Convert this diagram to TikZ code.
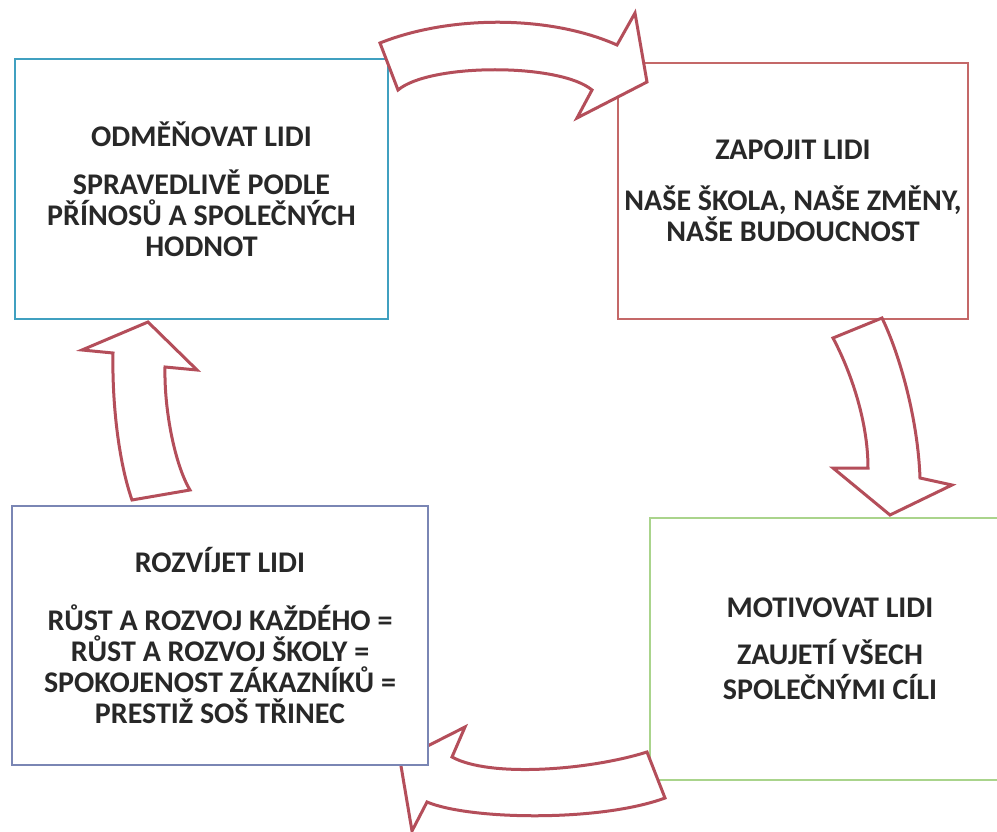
\documentclass[tikz,border=0pt]{standalone}
\usepackage{fontspec}
\setmainfont{Carlito}
\usepackage{xcolor}
\definecolor{rewardline}{RGB}{64,160,192}
\definecolor{engageline}{RGB}{196,104,104}
\definecolor{motivline}{RGB}{170,212,140}
\definecolor{growline}{RGB}{122,134,180}
\definecolor{arrowred}{RGB}{180,78,90}
\definecolor{inkgray}{RGB}{40,40,40}
\tikzset{
  cyclebox/.style={draw,line width=2.5pt,fill=white,align=center,inner sep=0pt,
    text=inkgray,font=\bfseries\fontsize{30}{31}\selectfont},
  bentarrow/.style={draw=arrowred,fill=white,line width=3pt,line join=miter}
}
\begin{document}
\begin{tikzpicture}[x=1pt,y=-1pt]
\clip (0,0) rectangle (997,832);
\fill[white] (0,0) rectangle (997,832);

\node[cyclebox,draw=rewardline,minimum width=373pt,minimum height=260pt] (reward) at (201.5,189)
  {ODMĚŇOVAT LIDI\\[17pt]SPRAVEDLIVĚ PODLE\\PŘÍNOSŮ A SPOLEČNÝCH\\HODNOT};
\node[cyclebox,draw=engageline,minimum width=350pt,minimum height=256pt] (engage) at (793,191)
  {ZAPOJIT LIDI\\[20pt]NAŠE ŠKOLA, NAŠE ZMĚNY,\\NAŠE BUDOUCNOST};
\node[cyclebox,draw=motivline,minimum width=360pt,minimum height=262pt] (motivate) at (830,649)
  {MOTIVOVAT LIDI\\[16pt]ZAUJETÍ VŠECH\\[4pt]SPOLEČNÝMI CÍLI};

% top
\draw[bentarrow] (380,43) .. controls (450,15) and (550,15) .. (617,45)
  -- (635,13) -- (647,82) -- (577,118) -- (592,90)
  .. controls (560,63) and (430,63) .. (398,90) -- cycle;
% right
\draw[bentarrow] (833,338) .. controls (850,370) and (868,420) .. (868,468)
  -- (833,468) -- (890,515) -- (952,485) -- (920,478)
  .. controls (918,420) and (900,355) .. (882,318) -- cycle;
% bottom
\draw[bentarrow] (665,798) .. controls (600,822) and (470,820) .. (427,802)
  -- (412,831) -- (400,760) -- (465,727) -- (452,757)
  .. controls (490,778) and (590,770) .. (647,752) -- cycle;

\node[cyclebox,draw=growline,minimum width=416pt,minimum height=259pt] (grow) at (220,635.5)
  {ROZVÍJET LIDI\\[27pt]RŮST A ROZVOJ KAŽDÉHO =\\RŮST A ROZVOJ ŠKOLY =\\SPOKOJENOST ZÁKAZNÍKŮ =\\PRESTIŽ SOŠ TŘINEC};

% left
\draw[bentarrow] (190,490) .. controls (175,465) and (164,410) .. (165,367)
  -- (197,370) -- (148,322) -- (82,350) -- (113,353)
  .. controls (112,400) and (118,460) .. (132,500) -- cycle;
\end{tikzpicture}
\end{document}
